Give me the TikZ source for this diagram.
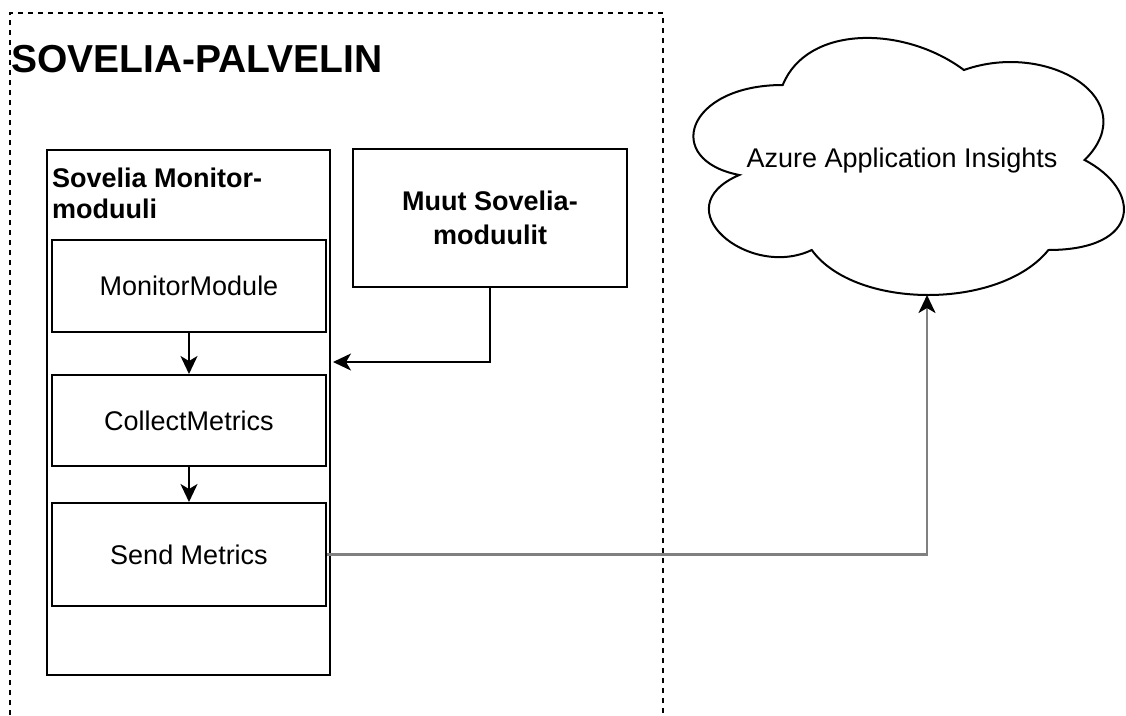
\documentclass[tikz,border=0pt]{standalone}
\usepackage{fontspec}
\setmainfont{Liberation Sans}
\usetikzlibrary{arrows.meta}
\begin{document}
\begin{tikzpicture}[x=1pt,y=-1pt,
  box/.style={draw, line width=2pt, inner sep=0pt, minimum width=274pt,
    font=\fontsize{27}{31}\selectfont},
  arr/.style={line width=2pt, -{Stealth[length=18pt,width=17pt,inset=5pt]}},
  grayarr/.style={line width=2.6pt, draw=black!50, -{Stealth[length=18pt,width=17pt,inset=5pt,color=black]}},
  zone/.style={line width=1.6pt, dash pattern=on 5pt off 5pt}
]
\useasboundingbox (0,0) rectangle (1126,715);
% dashed server zone
\draw[zone] (10,715) -- (10,13) -- (663,13) -- (663,715);
\node[anchor=base west, inner sep=0pt, font=\fontsize{39}{45}\selectfont\bfseries] (title) at (11,72) {SOVELIA-PALVELIN};
% monitor module container
\node[draw, line width=2pt, minimum width=283pt, minimum height=525pt, inner sep=0pt] (mon) at (188.5,412.5) {};
\node[anchor=base west, align=left, inner sep=0pt, font=\fontsize{27}{31}\selectfont\bfseries] (montitle) at (52,218) {Sovelia Monitor-\\moduuli};
\node[box, minimum height=92pt] (mm) at (189,286) {MonitorModule};
\node[box, minimum height=91pt] (cm) at (189,420.5) {CollectMetrics};
\node[box, minimum height=103pt] (sm) at (189,554.5) {Send Metrics};
% other modules
\node[box, minimum height=138pt, align=center, font=\fontsize{27}{34}\selectfont\bfseries] (muut) at (490,218) {Muut Sovelia-\\moduulit};
% cloud
\draw[line width=2pt] (782.75,85)
  .. controls (686.15,85) and (662,160) .. (739.28,175)
  .. controls (662,208) and (748.94,280) .. (811.73,250)
  .. controls (855.2,310) and (1000.1,310) .. (1048.4,250)
  .. controls (1142,250) and (1142,190) .. (1084.6,160)
  .. controls (1145,100) and (1048.4,40) .. (963.9,70)
  .. controls (903.5,25) and (806.9,25) .. (782.75,85) -- cycle;
\node[inner sep=0pt, font=\fontsize{27}{31}\selectfont] (cloud) at (902,161) {Azure Application Insights};
\coordinate (cloudin) at (927,295);
\coordinate (monin) at (333,362);
% connectors
\draw[arr] (mm.south) -- (cm.north);
\draw[arr] (cm.south) -- (sm.north);
\draw[arr] (muut.south) |- (monin);
\draw[grayarr] (sm.east) -| (cloudin);
\end{tikzpicture}
\end{document}
